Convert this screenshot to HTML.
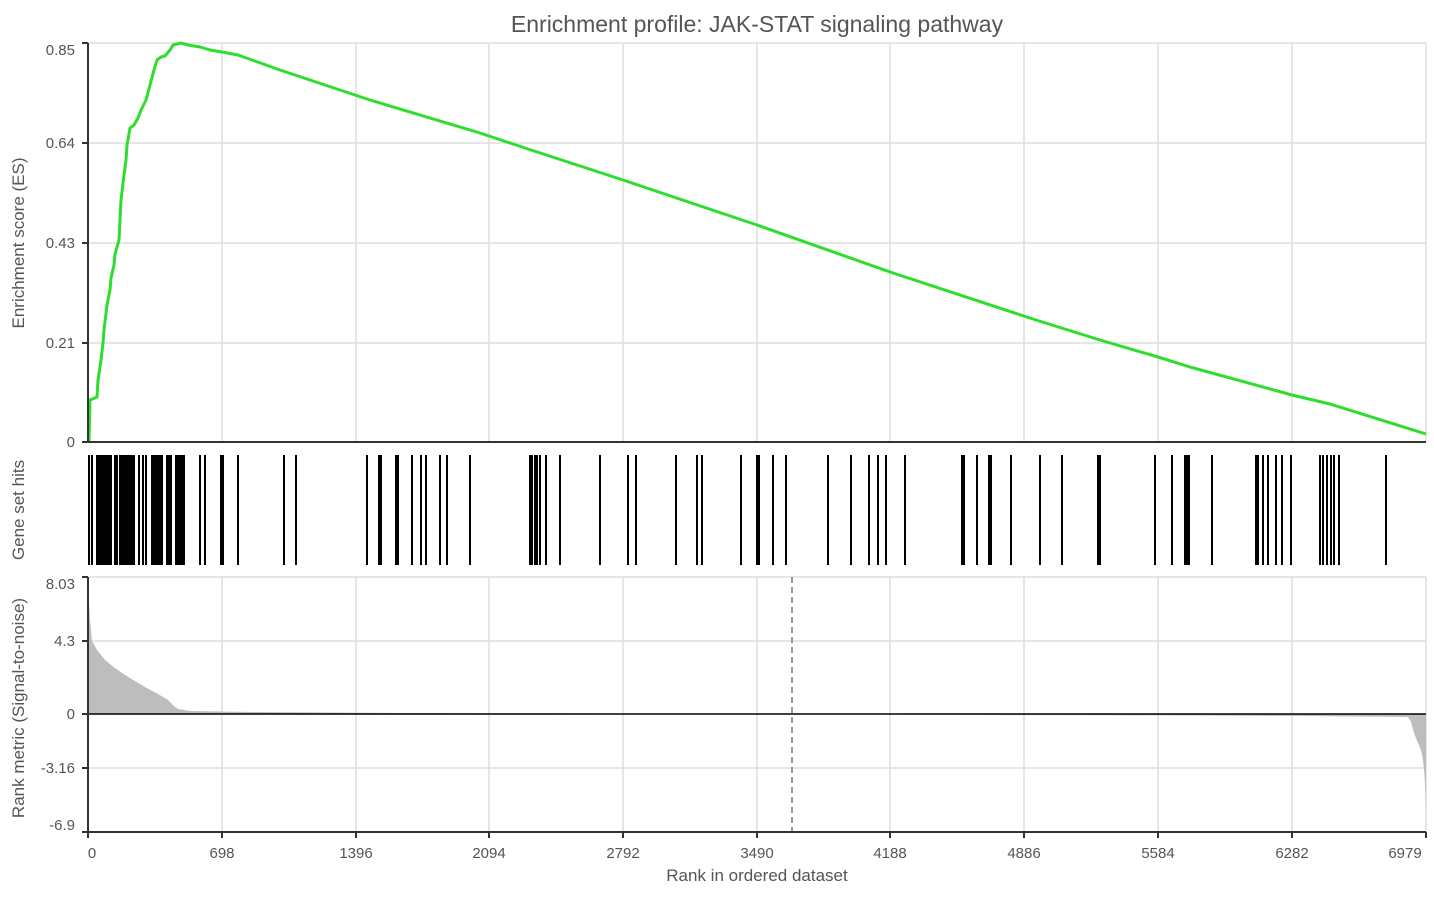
<!DOCTYPE html>
<html><head><meta charset="utf-8"><style>
html,body{margin:0;padding:0;background:#fff;}
svg{display:block;font-family:"Liberation Sans",sans-serif;}
</style></head><body>
<svg width="1434" height="897" viewBox="0 0 1434 897">
<rect width="1434" height="897" fill="#fff"/>
<text x="757" y="32" font-size="23" fill="#555" text-anchor="middle">Enrichment profile: JAK-STAT signaling pathway</text>
<g stroke="#dedede" stroke-width="1.5">
<line x1="88" y1="43" x2="1426" y2="43"/><line x1="88" y1="143" x2="1426" y2="143"/><line x1="88" y1="243" x2="1426" y2="243"/><line x1="88" y1="343" x2="1426" y2="343"/>
<line x1="222" y1="43" x2="222" y2="442"/><line x1="356" y1="43" x2="356" y2="442"/><line x1="489" y1="43" x2="489" y2="442"/><line x1="623" y1="43" x2="623" y2="442"/><line x1="757" y1="43" x2="757" y2="442"/><line x1="890" y1="43" x2="890" y2="442"/><line x1="1024" y1="43" x2="1024" y2="442"/><line x1="1158" y1="43" x2="1158" y2="442"/><line x1="1292" y1="43" x2="1292" y2="442"/><line x1="1426" y1="43" x2="1426" y2="442"/>
<line x1="88" y1="577" x2="1426" y2="577"/><line x1="88" y1="641" x2="1426" y2="641"/><line x1="88" y1="768" x2="1426" y2="768"/>
<line x1="222" y1="577" x2="222" y2="832"/><line x1="356" y1="577" x2="356" y2="832"/><line x1="489" y1="577" x2="489" y2="832"/><line x1="623" y1="577" x2="623" y2="832"/><line x1="757" y1="577" x2="757" y2="832"/><line x1="890" y1="577" x2="890" y2="832"/><line x1="1024" y1="577" x2="1024" y2="832"/><line x1="1158" y1="577" x2="1158" y2="832"/><line x1="1292" y1="577" x2="1292" y2="832"/><line x1="1426" y1="577" x2="1426" y2="832"/>
</g>
<polyline fill="none" stroke="#2ede2e" stroke-width="3" stroke-linejoin="round" points="89,442 90,400 97,397 98,380 101,360 103,343 104,330 107,305 110,290 111,278 114,265 115,254 119,240 121,200 124,175 126,160 127,145 130,128 134,125 138,118 141,110 146,100 150,85 154,70 157,60 161,57 165,56 170,50 173,45 181,43 188,45 200,47 210,50 222,52 238,55 280,70 370,100 480,133 528,149 623,180 757,225 890,272 1036,320 1100,340 1158,357 1190,367 1292,395 1330,404 1426,434"/>
<g stroke="#000" stroke-width="2" shape-rendering="crispEdges">
<path d="M89 455V565M92 455V565M97 455V565M99 455V565M101 455V565M103 455V565M105 455V565M107 455V565M109 455V565M111 455V565M115 455V565M117 455V565M120 455V565M122 455V565M124 455V565M126 455V565M128 455V565M130 455V565M132 455V565M134 455V565M139 455V565M143 455V565M146 455V565M152 455V565M154 455V565M156 455V565M158 455V565M160 455V565M162 455V565M167 455V565M169 455V565M171 455V565M176 455V565M178 455V565M180 455V565M182 455V565M184 455V565M200 455V565M205 455V565M221 455V565M223 455V565M238 455V565M284 455V565M296 455V565M367 455V565M379 455V565M381 455V565M396 455V565M398 455V565M412 455V565M421 455V565M426 455V565M440 455V565M447 455V565M470 455V565M530 455V565M532 455V565M535 455V565M537 455V565M540 455V565M546 455V565M560 455V565M600 455V565M628 455V565M636 455V565M676 455V565M697 455V565M702 455V565M741 455V565M757 455V565M759 455V565M773 455V565M786 455V565M828 455V565M851 455V565M869 455V565M878 455V565M886 455V565M905 455V565M962 455V565M964 455V565M977 455V565M989 455V565M991 455V565M1011 455V565M1040 455V565M1062 455V565M1098 455V565M1100 455V565M1155 455V565M1172 455V565M1185 455V565M1187 455V565M1189 455V565M1212 455V565M1256 455V565M1258 455V565M1263 455V565M1268 455V565M1276 455V565M1282 455V565M1291 455V565M1320 455V565M1323 455V565M1327 455V565M1331 455V565M1334 455V565M1339 455V565M1386 455V565"/>
</g>
<polygon fill="#bdbdbd" points="88,714 88,584 90,620 92,641 97,650 105,660 115,668 125,675 135,681 145,687 158,694 168,700 174,706 178,709 190,711 250,712 400,713 600,713.5 900,714.5 1200,715.5 1300,716 1408,717 1411,722 1414,733 1418,743 1421,750 1423,760 1424.5,775 1425.5,795 1426,815 1426,714"/>
<line x1="88" y1="714" x2="1426" y2="714" stroke="#000" stroke-width="1.5"/>
<line x1="792" y1="577" x2="792" y2="832" stroke="#999" stroke-width="2" stroke-dasharray="6,4"/>
<g stroke="#333" stroke-width="2" fill="none">
<line x1="88" y1="43" x2="88" y2="442"/><line x1="88" y1="442" x2="1426" y2="442"/>
<line x1="88" y1="577" x2="88" y2="832"/><line x1="88" y1="832" x2="1426" y2="832"/>
<path d="M82 43H88M82 143H88M82 243H88M82 343H88M82 442H88M82 577H88M82 641H88M82 714H88M82 768H88M82 832H88"/>
<path d="M88 832V838M222 832V838M356 832V838M489 832V838M623 832V838M757 832V838M890 832V838M1024 832V838M1158 832V838M1292 832V838M1426 832V838"/>
</g>
<g font-size="15" fill="#555" text-anchor="end">
<text x="75" y="55">0.85</text><text x="75" y="148">0.64</text><text x="75" y="248">0.43</text><text x="75" y="348">0.21</text><text x="75" y="447">0</text>
<text x="75" y="589">8.03</text><text x="75" y="646">4.3</text><text x="75" y="719">0</text><text x="75" y="773">-3.16</text><text x="75" y="830">-6.9</text>
</g>
<g font-size="15" fill="#555" text-anchor="middle">
<text x="92" y="858">0</text><text x="222" y="858">698</text><text x="356" y="858">1396</text><text x="489" y="858">2094</text><text x="623" y="858">2792</text><text x="757" y="858">3490</text><text x="890" y="858">4188</text><text x="1024" y="858">4886</text><text x="1158" y="858">5584</text><text x="1292" y="858">6282</text><text x="1405" y="858">6979</text>
</g>
<text x="757" y="881" font-size="17" fill="#555" text-anchor="middle">Rank in ordered dataset</text>
<g font-size="17" fill="#555" text-anchor="middle">
<text transform="translate(24,243) rotate(-90)">Enrichment score (ES)</text>
<text transform="translate(24,510) rotate(-90)">Gene set hits</text>
<text transform="translate(24,708) rotate(-90)">Rank metric (Signal-to-noise)</text>
</g>
</svg>
</body></html>
